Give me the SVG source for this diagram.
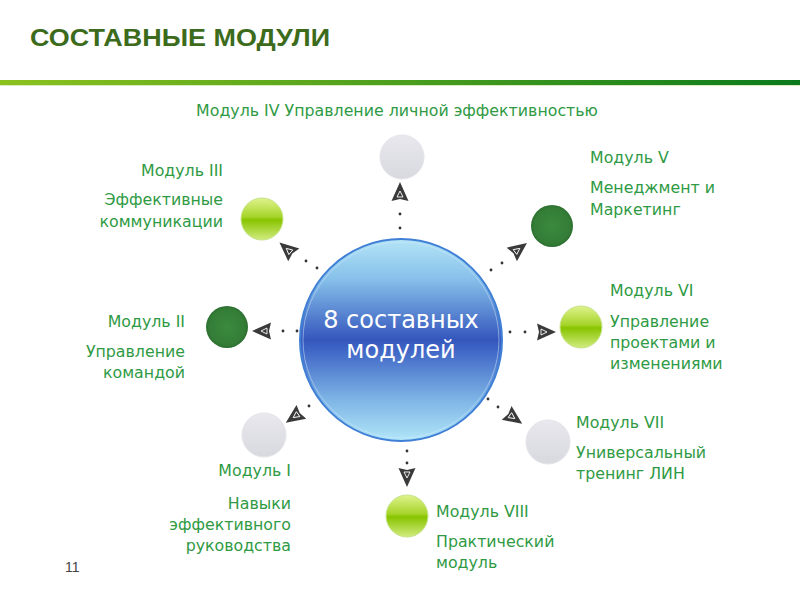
<svg xmlns="http://www.w3.org/2000/svg" width="800" height="600" viewBox="0 0 800 600">
<style>
.t{font-family:"DejaVu Sans","Noto Sans",sans-serif;font-size:15.8px;fill:#2f9a44}
.r{text-anchor:end}
.dot{fill:#333}
</style>
<defs>
<linearGradient id="bar" x1="0" y1="0" x2="1" y2="0">
<stop offset="0" stop-color="#8cc21e"/><stop offset="1" stop-color="#0b7a1c"/>
</linearGradient>
<linearGradient id="big" x1="0" y1="0" x2="0" y2="1">
<stop offset="0" stop-color="#b4e4f6"/><stop offset="0.2" stop-color="#86c0ea"/><stop offset="0.5" stop-color="#3456bd"/><stop offset="0.55" stop-color="#3f66c6"/><stop offset="0.8" stop-color="#7fb6e6"/><stop offset="1" stop-color="#b2e6f8"/>
</linearGradient>
<linearGradient id="lg" x1="0" y1="0" x2="0" y2="1">
<stop offset="0" stop-color="#dff38c"/><stop offset="0.45" stop-color="#a6d42a"/><stop offset="0.52" stop-color="#88c400"/><stop offset="1" stop-color="#d2ec80"/>
</linearGradient>
<radialGradient id="dg" cx="0.5" cy="0.5" r="0.5">
<stop offset="0" stop-color="#3a8a3e"/><stop offset="0.85" stop-color="#347d37"/><stop offset="1" stop-color="#2c6e30"/>
</radialGradient>
<linearGradient id="gr" x1="0" y1="0" x2="0" y2="1">
<stop offset="0" stop-color="#e8e8ee"/><stop offset="1" stop-color="#d8d9df"/>
</linearGradient>
<g id="arr">
<polygon points="0,-10 8.5,9 0,7 -8.5,9" fill="#3a3a3a"/>
<polygon points="0,-1 3,5 -3,5" fill="none" stroke="#fff" stroke-width="0.9"/>
</g>
</defs>
<rect width="800" height="600" fill="#fff"/>
<text x="30" y="46" font-family="Liberation Sans,Arial,sans-serif" font-weight="bold" font-size="24" fill="#3c6b1c" textLength="300" lengthAdjust="spacingAndGlyphs">СОСТАВНЫЕ МОДУЛИ</text>
<rect x="0" y="80" width="800" height="5" fill="url(#bar)"/>
<rect x="0" y="85" width="800" height="1" fill="#d8ecc0"/>
<text x="65" y="572" font-family="Liberation Sans,Arial,sans-serif" font-size="14" fill="#444">11</text>

<g id="connectors">
<use href="#arr" transform="translate(400,192)"/>
<circle class="dot" cx="400" cy="214" r="1.4"/><circle class="dot" cx="400" cy="228" r="1.4"/>
<use href="#arr" transform="translate(287,249) rotate(-49)"/>
<circle class="dot" cx="306" cy="261" r="1.4"/><circle class="dot" cx="317" cy="268" r="1.4"/>
<use href="#arr" transform="translate(519,249) rotate(53)"/>
<circle class="dot" cx="502" cy="263" r="1.4"/><circle class="dot" cx="491" cy="270" r="1.4"/>
<use href="#arr" transform="translate(262,331) rotate(-90)"/>
<circle class="dot" cx="283" cy="331" r="1.4"/><circle class="dot" cx="297" cy="331" r="1.4"/>
<use href="#arr" transform="translate(546,332) rotate(90)"/>
<circle class="dot" cx="510" cy="332" r="1.4"/><circle class="dot" cx="525" cy="332" r="1.4"/>
<use href="#arr" transform="translate(514,418) rotate(125)"/>
<circle class="dot" cx="498" cy="407" r="1.4"/><circle class="dot" cx="488" cy="399" r="1.4"/>
<use href="#arr" transform="translate(294,417) rotate(-125)"/>
<circle class="dot" cx="309" cy="406" r="1.4"/>
<use href="#arr" transform="translate(407,477) rotate(180)"/>
<circle class="dot" cx="407" cy="451" r="1.4"/><circle class="dot" cx="407" cy="463" r="1.4"/>
</g>

<g id="center">
<circle cx="401" cy="340" r="101" fill="url(#big)" stroke="#3f7fd6" stroke-width="2"/>
<circle cx="401" cy="340" r="98" fill="none" stroke="#cfeaff" stroke-opacity="0.5" stroke-width="1"/>
<text x="401" y="328" text-anchor="middle" font-family="DejaVu Sans,sans-serif" font-size="24" fill="#fff">8 составных</text>
<text x="401" y="358" text-anchor="middle" font-family="DejaVu Sans,sans-serif" font-size="24" fill="#fff">модулей</text>
</g>

<g id="m4">
<circle cx="402" cy="157" r="22" fill="url(#gr)" stroke="#e4e4ea" stroke-width="1"/>
<text class="t" x="397" y="116" text-anchor="middle">Модуль IV Управление личной эффективностью</text>
</g>
<g id="m3">
<circle cx="262" cy="219" r="21" fill="url(#lg)" stroke="#c6e48a" stroke-width="1"/>
<text class="t r" x="223" y="176">Модуль III</text>
<text class="t r" x="223" y="205">Эффективные</text>
<text class="t r" x="223" y="227">коммуникации</text>
</g>
<g id="m5">
<circle cx="552" cy="226" r="21" fill="url(#dg)"/>
<text class="t" x="590" y="163">Модуль V</text>
<text class="t" x="590" y="193">Менеджмент и</text>
<text class="t" x="590" y="215">Маркетинг</text>
</g>
<g id="m2">
<circle cx="227" cy="327" r="21" fill="url(#dg)"/>
<text class="t r" x="185" y="327">Модуль II</text>
<text class="t r" x="185" y="357">Управление</text>
<text class="t r" x="185" y="378">командой</text>
</g>
<g id="m6">
<circle cx="581" cy="327" r="21" fill="url(#lg)" stroke="#c6e48a" stroke-width="1"/>
<text class="t" x="610" y="296">Модуль VI</text>
<text class="t" x="610" y="327">Управление</text>
<text class="t" x="610" y="348">проектами и</text>
<text class="t" x="610" y="369">изменениями</text>
</g>
<g id="m7">
<circle cx="548" cy="442" r="22" fill="url(#gr)" stroke="#e4e4ea" stroke-width="1"/>
<text class="t" x="576" y="428">Модуль VII</text>
<text class="t" x="576" y="458">Универсальный</text>
<text class="t" x="576" y="479">тренинг ЛИН</text>
</g>
<g id="m1">
<circle cx="264" cy="435" r="22" fill="url(#gr)" stroke="#e4e4ea" stroke-width="1"/>
<text class="t r" x="291" y="476">Модуль I</text>
<text class="t r" x="291" y="509">Навыки</text>
<text class="t r" x="291" y="530">эффективного</text>
<text class="t r" x="291" y="551">руководства</text>
</g>
<g id="m8">
<circle cx="407" cy="516" r="21" fill="url(#lg)" stroke="#c6e48a" stroke-width="1"/>
<text class="t" x="436" y="517">Модуль VIII</text>
<text class="t" x="436" y="547">Практический</text>
<text class="t" x="436" y="568">модуль</text>
</g>
</svg>
